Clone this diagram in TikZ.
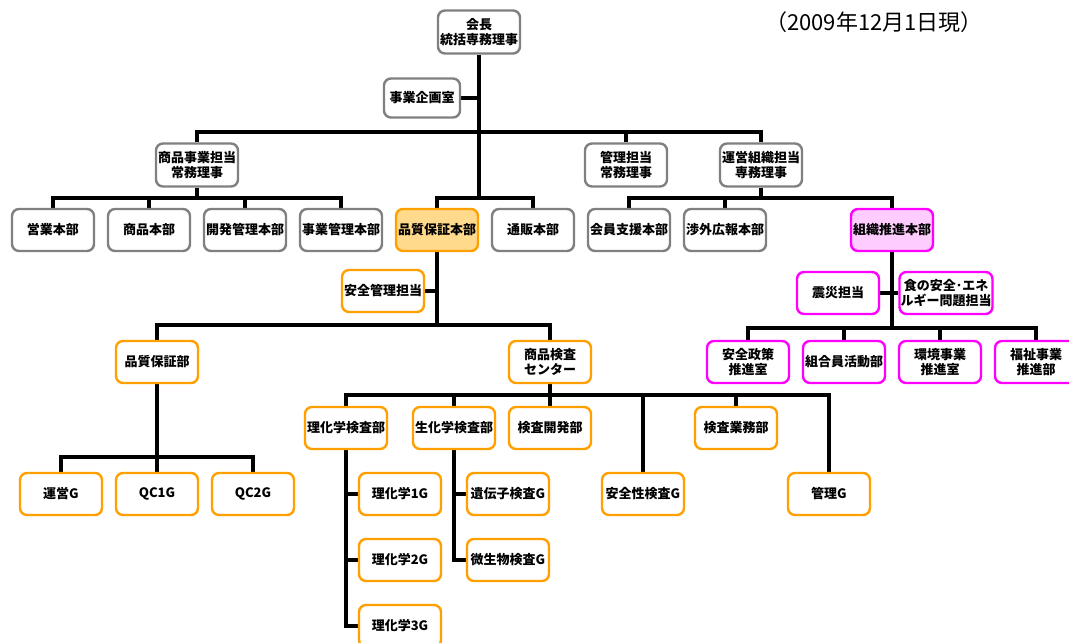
\documentclass[tikz,border=0pt]{standalone}
\usepackage{fontspec}
\setmainfont{Noto Sans CJK JP}
\usetikzlibrary{backgrounds}
\definecolor{bgrey}{RGB}{128,128,128}
\definecolor{borange}{RGB}{255,160,0}
\definecolor{forange}{RGB}{255,217,140}
\definecolor{bmag}{RGB}{255,0,255}
\definecolor{fpink}{RGB}{255,204,255}
\begin{document}
\begin{tikzpicture}[x=1pt,y=-1pt,
  base/.style={rounded corners=7pt, line width=2.4pt, minimum width=82pt, minimum height=42pt,
    inner sep=1pt, align=center, fill=white, font=\bfseries\fontsize{13}{15.5}\selectfont},
  gbox/.style={base, draw=bgrey},
  obox/.style={base, draw=borange},
  mbox/.style={base, draw=bmag},
  conn/.style={line width=3.2pt, draw=black}]
\clip (0,0) rectangle (1069,643);
\useasboundingbox (0,0) rectangle (1069,643);

\node[font=\fontsize{22}{24}\selectfont] (date) at (874,22) {（2009年12月1日現）};

% top levels
\node[gbox, minimum height=43pt] (chair) at (479,32) {会長\\統括専務理事};
\node[gbox, minimum width=76pt, minimum height=39pt] (kikaku) at (422,98) {事業企画室};
\node[gbox, minimum height=43pt] (shohinJ) at (197,165) {商品事業担当\\常務理事};
\node[gbox, minimum height=43pt] (kanriT) at (626,165) {管理担当\\常務理事};
\node[gbox, minimum height=43pt] (unei) at (761,165) {運営組織担当\\専務理事};

% headquarters row
\node[gbox] (eigyo) at (53,230) {営業本部};
\node[gbox] (shohin) at (149,230) {商品本部};
\node[gbox] (kaihatsu) at (245,230) {開発管理本部};
\node[gbox] (jigyo) at (341,230) {事業管理本部};
\node[obox, fill=forange] (hqHQ) at (437,230) {品質保証本部};
\node[gbox] (tsuhan) at (533,230) {通販本部};
\node[gbox] (kaiin) at (629,230) {会員支援本部};
\node[gbox] (shogai) at (725,230) {渉外広報本部};
\node[mbox, fill=fpink] (soshiki) at (892,230) {組織推進本部};

% soshiki branch
\node[mbox] (shinsai) at (838,293) {震災担当};
\node[mbox] (shoku) at (946,293) {食の安全･エネ\\ルギー問題担当};
\node[mbox] (seisaku) at (748,362) {安全政策\\推進室};
\node[mbox] (kumiai) at (844,362) {組合員活動部};
\node[mbox] (kankyo) at (940,362) {環境事業\\推進室};
\node[mbox] (fukushi) at (1036,362) {福祉事業\\推進部};

% quality branch
\node[obox] (anzenT) at (383,291) {安全管理担当};
\node[obox] (hqBu) at (157,362) {品質保証部};
\node[obox] (kensaC) at (550,362) {商品検査\\センター};
\node[obox] (uneiG) at (61,494) {運営G};
\node[obox] (qc1) at (157,494) {QC1G};
\node[obox] (qc2) at (253,494) {QC2G};
\node[obox] (rika) at (346,428) {理化学検査部};
\node[obox] (seika) at (454,428) {生化学検査部};
\node[obox] (kaihatsuK) at (550,428) {検査開発部};
\node[obox] (gyomu) at (736,428) {検査業務部};
\node[obox] (anzenG) at (643,494) {安全性検査G};
\node[obox] (kanriG) at (829,494) {管理G};
\node[obox] (rika1) at (400,494) {理化学1G};
\node[obox] (rika2) at (400,560) {理化学2G};
\node[obox] (rika3) at (400,626) {理化学3G};
\node[obox] (iden) at (508,494) {遺伝子検査G};
\node[obox] (bisei) at (508,560) {微生物検査G};

\coordinate (tbar) at (479,132);
\coordinate (hqbar) at (479,198);
\coordinate (sj) at (197,198);
\coordinate (uj) at (761,198);
\coordinate (oj) at (892,328);
\coordinate (hj) at (437,325);
\coordinate (bj) at (157,457);
\coordinate (kj) at (550,395);

\begin{scope}[on background layer]
\draw[conn] (chair.south) -- (hqbar);
\draw[conn] (kikaku.east) -- (kikaku.east -| chair.south);
\draw[conn] (shohinJ.north) |- (tbar) -| (unei.north);
\draw[conn] (kanriT.north) -- (kanriT.north |- tbar);
\draw[conn] (hqHQ.north) |- (hqbar) -| (tsuhan.north);

\draw[conn] (shohinJ.south) -- (sj);
\draw[conn] (eigyo.north) |- (sj) -| (jigyo.north);
\draw[conn] (shohin.north) -- (shohin.north |- sj);
\draw[conn] (kaihatsu.north) -- (kaihatsu.north |- sj);

\draw[conn] (unei.south) -- (uj);
\draw[conn] (kaiin.north) |- (uj) -| (soshiki.north);
\draw[conn] (shogai.north) -- (shogai.north |- uj);

\draw[conn] (soshiki.south) -- (oj);
\draw[conn] (shinsai.east) -- (shoku.west);
\draw[conn] (seisaku.north) |- (oj) -| (fukushi.north);
\draw[conn] (kumiai.north) -- (kumiai.north |- oj);
\draw[conn] (kankyo.north) -- (kankyo.north |- oj);

\draw[conn] (hqHQ.south) -- (hj);
\draw[conn] (anzenT.east) -- (anzenT.east -| hqHQ.south);
\draw[conn] (hqBu.north) |- (hj) -| (kensaC.north);

\draw[conn] (hqBu.south) -- (bj);
\draw[conn] (uneiG.north) |- (bj) -| (qc2.north);
\draw[conn] (qc1.north) -- (bj);

\draw[conn] (kensaC.south) -- (kaihatsuK.north);
\draw[conn] (rika.north) |- (kj) -| (kanriG.north);
\draw[conn] (seika.north) -- (seika.north |- kj);
\draw[conn] (anzenG.north) -- (anzenG.north |- kj);
\draw[conn] (gyomu.north) -- (gyomu.north |- kj);

\draw[conn] (rika.south) |- (rika3.west);
\draw[conn] (rika1.west) -- (rika1.west -| rika.south);
\draw[conn] (rika2.west) -- (rika2.west -| rika.south);
\draw[conn] (seika.south) |- (bisei.west);
\draw[conn] (iden.west) -- (iden.west -| seika.south);
\end{scope}
\end{tikzpicture}
\end{document}
